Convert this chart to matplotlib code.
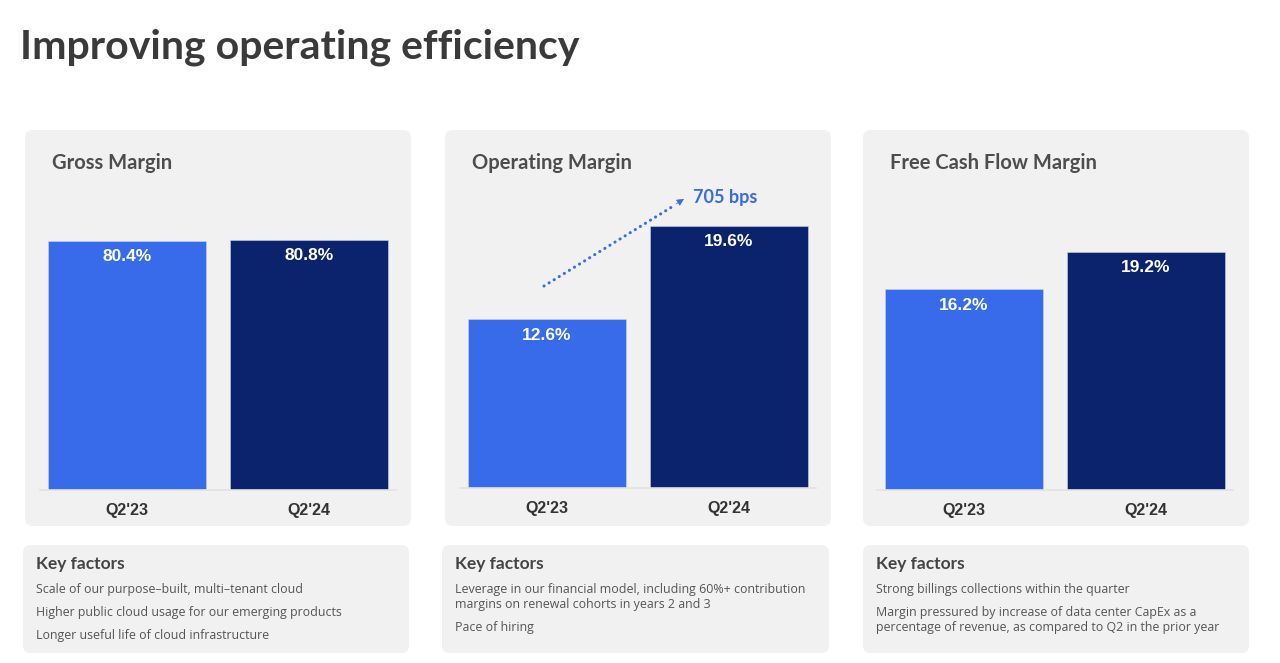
import matplotlib.pyplot as plt
from matplotlib.patches import FancyBboxPatch

# -------------------------- DATA --------------------------
periods = ["Q2'23", "Q2'24"]
gross_margin = [80.4, 80.8]
operating_margin = [12.6, 19.6]
fcf_margin = [16.2, 19.2]
panel_titles = ["Gross Margin", "Operating Margin", "Free Cash Flow Margin"]
panel_ymax = [100, 23, 25]
bps_label = "705 bps"

key_factors = [
    ["Scale of our purpose\u2013built, multi\u2013tenant cloud",
     "Higher public cloud usage for our emerging products",
     "Longer useful life of cloud infrastructure"],
    ["Leverage in our financial model, including 60%+ contribution\nmargins on renewal cohorts in years 2 and 3",
     "Pace of hiring"],
    ["Strong billings collections within the quarter",
     "Margin pressured by increase of data center CapEx as a\npercentage of revenue, as compared to Q2 in the prior year"],
]

# -------------------------- STYLE --------------------------
W, H = 1280, 663
LIGHT = '#376be9'
DARK = '#0b236c'
PANEL_BG = '#f1f1f1'
HEAD_FONT = ['Lato', 'DejaVu Sans']
BAR_FONT = ['Liberation Sans', 'DejaVu Sans']
BODY_FONT = ['Open Sans', 'DejaVu Sans']

fig = plt.figure(figsize=(W / 100, H / 100), dpi=100)
fig.patch.set_facecolor('white')


def fx(px):
    return px / W


def fy(py):
    return 1 - py / H


def rounded_box(x0, y0, x1, y1):
    fig.patches.append(FancyBboxPatch(
        (fx(x0), fy(y1)), fx(x1 - x0), (y1 - y0) / H,
        boxstyle="round,pad=0,rounding_size=0.006",
        transform=fig.transFigure, facecolor=PANEL_BG, edgecolor='none',
        zorder=-5, mutation_aspect=W / H))


fig.text(fx(20), fy(47), "Improving operating efficiency", family=HEAD_FONT,
         fontweight='bold', fontsize=29.5, color='#3a3a3a', va='center')

panels = [
    dict(box=(25, 130, 411, 526), ax=(40, 396), base=490, vals=gross_margin,
         kbox=(23, 545, 409, 653)),
    dict(box=(445, 130, 831, 526), ax=(460, 816), base=488, vals=operating_margin,
         kbox=(442, 545, 829, 653)),
    dict(box=(863, 130, 1249, 526), ax=(877, 1233), base=490, vals=fcf_margin,
         kbox=(863, 545, 1249, 653)),
]

for i, p in enumerate(panels):
    x0, y0, x1, y1 = p['box']
    rounded_box(x0, y0, x1, y1)
    fig.text(fx(x0 + 27), fy(163), panel_titles[i], family=HEAD_FONT,
             fontweight='bold', fontsize=14.5, color='#4d4d4d', va='center')

    ax_top = 180
    ax = fig.add_axes([fx(p['ax'][0]), fy(p['base']),
                       fx(p['ax'][1] - p['ax'][0]), (p['base'] - ax_top) / H])
    ax.set_facecolor('none')
    xs = range(len(periods))
    bars = ax.bar(xs, p['vals'], width=0.868, color=[LIGHT, DARK],
                  edgecolor='#c9d3ef', linewidth=0.4)
    ax.set_xlim(-0.478, 1.478)
    ax.set_ylim(0, panel_ymax[i])
    for s in ['top', 'right', 'left']:
        ax.spines[s].set_visible(False)
    ax.spines['bottom'].set_color('#e2e2e2')
    ax.spines['bottom'].set_linewidth(1.2)
    ax.set_yticks([])
    ax.set_xticks(list(xs))
    ax.set_xticklabels(periods, family=BAR_FONT, fontweight='bold',
                       fontsize=11.5, color='#333333')
    ax.tick_params(axis='x', length=0, pad=9)
    for b, v in zip(bars, p['vals']):
        ax.annotate(f"{v}%", (b.get_x() + b.get_width() / 2, v),
                    xytext=(0, -16), textcoords='offset pixels',
                    ha='center', va='center', family=BAR_FONT,
                    fontweight='bold', fontsize=12.5, color='white')

    if i == 1:
        # dotted trend line + solid arrowhead
        ox, ob = p['ax'][0], p['base']
        ax.annotate('', xy=(675 - ox, ob - 205), xytext=(544 - ox, ob - 286),
                    xycoords='axes pixels', textcoords='axes pixels',
                    arrowprops=dict(arrowstyle='-', linestyle=(0, (0.05, 1.9)),
                                    capstyle='round', color=LIGHT, lw=2.2,
                                    shrinkA=0, shrinkB=0),
                    annotation_clip=False)
        ax.annotate('', xy=(684 - ox, ob - 199), xytext=(676 - ox, ob - 204),
                    xycoords='axes pixels', textcoords='axes pixels',
                    arrowprops=dict(arrowstyle='-|>', color=LIGHT, lw=0.5,
                                    mutation_scale=11, shrinkA=0, shrinkB=0),
                    annotation_clip=False)
        fig.text(fx(693), fy(197), bps_label, family=HEAD_FONT,
                 fontweight='bold', fontsize=13, color=LIGHT, va='center')

    # key factors box
    kx0, ky0, kx1, ky1 = p['kbox']
    rounded_box(kx0, ky0, kx1, ky1)
    fig.text(fx(kx0 + 13), fy(564), "Key factors", family=HEAD_FONT,
             fontweight='bold', fontsize=12.5, color='#444444', va='center')
    ty = 590
    for line in key_factors[i]:
        n = line.count('\n') + 1
        fig.text(fx(kx0 + 13), fy(ty - 7), line, family=BODY_FONT,
                 fontsize=8.9, color='#555555', va='top', linespacing=1.2)
        ty += 8 + 15 * n

plt.savefig('out.png', dpi=100, facecolor='white')
